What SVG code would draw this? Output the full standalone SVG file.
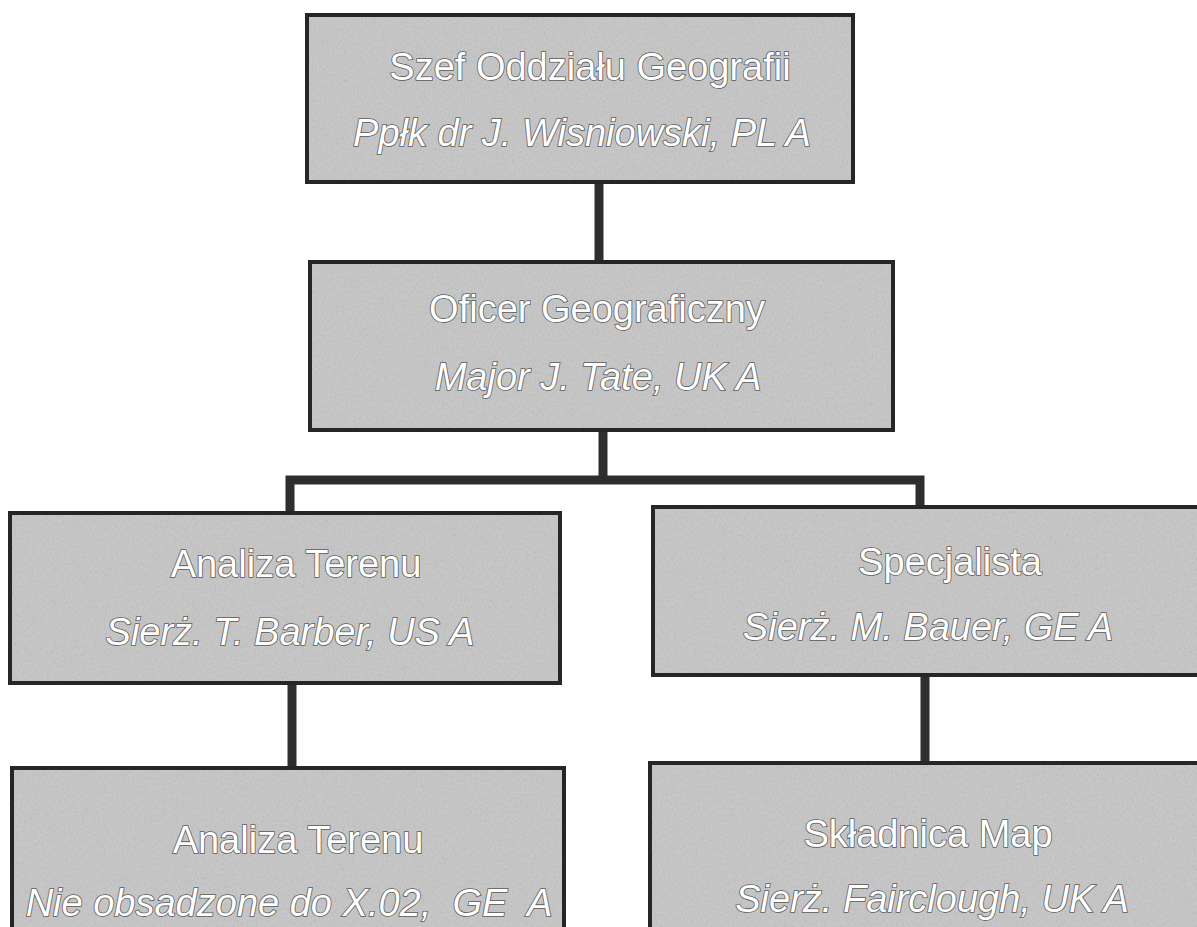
<svg xmlns="http://www.w3.org/2000/svg" width="1197" height="927" viewBox="0 0 1197 927">
<defs>
<filter id="grain" x="0" y="0" width="100%" height="100%">
<feTurbulence type="fractalNoise" baseFrequency="0.9 0.35" numOctaves="2" seed="3" result="n"/>
<feColorMatrix type="matrix" values="0 0 0 0 0.45  0 0 0 0 0.45  0 0 0 0 0.45  0 0 0 1.6 -0.75" in="n" result="d"/>
<feComposite in="d" in2="SourceGraphic" operator="in"/>
</filter>
</defs>
<style>
.box{fill:#c6c6c6;stroke:#262626;stroke-width:4}
.tex{fill:#c6c6c6;filter:url(#grain)}
.t1,.t2{font-family:"Liberation Sans",Arial,sans-serif;font-size:38px;fill:#ffffff;stroke:#5a5a5a;stroke-width:1.6;paint-order:stroke;text-anchor:middle;white-space:pre}
.t2{font-style:italic}
.con{fill:none;stroke:#2e2e2e;stroke-width:9;stroke-linejoin:miter}
</style>
<rect width="1197" height="927" fill="#ffffff"/>
<g id="connectors">
<line class="con" x1="599" y1="182" x2="599" y2="262"/>
<line class="con" x1="603" y1="430" x2="603" y2="480"/>
<polyline class="con" points="290,513 290,480 920,480 920,508"/>
<line class="con" x1="292" y1="683" x2="292" y2="768"/>
<line class="con" x1="925" y1="675" x2="925" y2="763"/>
</g>
<g id="node-szef">
<rect class="box" x="307" y="15" width="546" height="167"/>
<rect class="tex" x="309" y="17" width="542" height="163"/>
<text class="t1" x="590" y="80">Szef Oddziału Geografii</text>
<text class="t2" x="582" y="146">Ppłk dr J. Wisniowski, PL A</text>
</g>
<g id="node-oficer">
<rect class="box" x="310" y="262" width="583" height="168"/>
<rect class="tex" x="312" y="264" width="579" height="164"/>
<text class="t1" x="597" y="322">Oficer Geograficzny</text>
<text class="t2" x="598" y="390">Major J. Tate, UK A</text>
</g>
<g id="node-analiza1">
<rect class="box" x="10" y="513" width="550" height="170"/>
<rect class="tex" x="12" y="515" width="546" height="166"/>
<text class="t1" x="296" y="577">Analiza Terenu</text>
<text class="t2" x="290" y="645">Sierż. T. Barber, US A</text>
</g>
<g id="node-specjalista">
<rect class="box" x="653" y="507" width="562" height="168"/>
<rect class="tex" x="655" y="509" width="558" height="164"/>
<text class="t1" x="950" y="575">Specjalista</text>
<text class="t2" x="928" y="640">Sierż. M. Bauer, GE A</text>
</g>
<g id="node-analiza2">
<rect class="box" x="12" y="768" width="552" height="182"/>
<rect class="tex" x="14" y="770" width="548" height="178"/>
<text class="t1" x="298" y="853">Analiza Terenu</text>
<text class="t2" x="289" y="916">Nie obsadzone do X.02,  GE  A</text>
</g>
<g id="node-skladnica">
<rect class="box" x="650" y="763" width="565" height="187"/>
<rect class="tex" x="652" y="765" width="561" height="183"/>
<text class="t1" x="928" y="847">Składnica Map</text>
<text class="t2" x="932" y="912">Sierż. Fairclough, UK A</text>
</g>
</svg>
